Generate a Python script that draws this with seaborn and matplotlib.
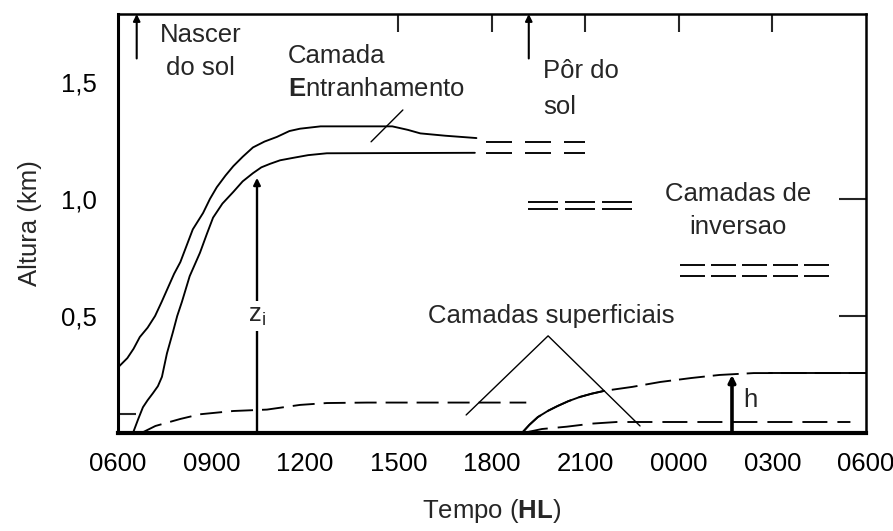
import matplotlib
matplotlib.use("Agg")
import matplotlib.pyplot as plt
import seaborn as sns
import numpy as np
import pandas as pd

# ---- time axis: hours after 06:00 local time ----
tick_hours = [0, 3, 6, 9, 12, 15, 18, 21, 24]
tick_labels = ["0600", "0900", "1200", "1500", "1800", "2100", "0000", "0300", "0600"]
top_tick_hours = [9, 12, 15, 18, 21]
height_ticks = [0.5, 1.0, 1.5]
height_labels = ["0,5", "1,0", "1,5"]
right_ticks = [0.5, 1.0]
small_tick = [0.08]

# top of the entrainment layer (km)
entr_t = [0.0, 0.15, 0.3, 0.5, 0.7, 0.95, 1.19, 1.4, 1.6, 1.8, 2.0, 2.2, 2.4, 2.73, 2.95, 3.17,
          3.45, 3.7, 4.0, 4.33, 4.7, 5.1, 5.5, 5.84, 6.5, 8.8, 9.3, 9.7, 10.5, 11.5]
entr_z = [0.28, 0.30, 0.32, 0.36, 0.41, 0.45, 0.50, 0.56, 0.62, 0.68, 0.73, 0.80, 0.87, 0.94,
          1.00, 1.05, 1.10, 1.14, 1.18, 1.22, 1.245, 1.265, 1.29, 1.30, 1.31, 1.31, 1.295,
          1.28, 1.27, 1.26]

# mixed layer top z_i (km)
mix_t = [0.48, 0.65, 0.8, 0.95, 1.12, 1.28, 1.41, 1.57, 1.76, 1.9, 2.05, 2.3, 2.63, 2.85,
         3.05, 3.35, 3.7, 4.0, 4.33, 4.6, 4.88, 5.2, 5.6, 6.1, 6.7, 11.45]
mix_z = [0.0, 0.06, 0.11, 0.14, 0.17, 0.20, 0.24, 0.34, 0.43, 0.50, 0.56, 0.67, 0.77, 0.85,
         0.92, 0.98, 1.03, 1.075, 1.11, 1.135, 1.15, 1.165, 1.175, 1.187, 1.195, 1.197]

# daytime surface layer (km)
sfc_day_t = [0.75, 1.2, 2.0, 2.63, 3.7, 4.78, 5.84, 6.7, 8.0, 13.1]
sfc_day_z = [0.0, 0.03, 0.06, 0.08, 0.094, 0.10, 0.12, 0.128, 0.13, 0.13]

# nocturnal stable boundary layer h (km)
nbl_t = [12.96, 13.2, 13.47, 13.8, 14.1, 14.45, 14.82, 15.2, 15.6, 16.5, 17.4, 18.4, 19.3,
         20.4, 24.0]
nbl_z = [0.0, 0.035, 0.068, 0.095, 0.115, 0.136, 0.154, 0.168, 0.18, 0.197, 0.218, 0.235,
         0.248, 0.256, 0.256]
nbl_solid_until = 15.6
nbl_solid_from = 20.9

# nocturnal surface layer (km)
sfc_night_t = [13.0, 13.6, 14.4, 15.2, 16.0, 23.5]
sfc_night_z = [0.0, 0.017, 0.027, 0.04, 0.047, 0.047]

# inversion layers (double dashed lines)
inv_start = [11.8, 13.15, 18.03]
inv_end = [15.0, 16.5, 22.95]
inv_upper = [1.245, 0.987, 0.718]
inv_lower = [1.197, 0.957, 0.671]

# label pointers
entr_ptr_t = [8.12, 9.14]
entr_ptr_z = [1.244, 1.38]
sfc_ptr_t = [11.17, 13.8, 16.75]
sfc_ptr_z = [0.077, 0.415, 0.03]

# vertical arrows: (time, base, tip)
sunrise = (0.6, 1.60, 1.79)
sunset = (13.18, 1.60, 1.79)
zi_arrow = (4.46, 0.0, 1.09)
h_arrow = (19.7, 0.0, 0.248)

sns.set_theme(style="white")
plt.rcParams["font.family"] = ["Liberation Sans", "DejaVu Sans"]
plt.rcParams["mathtext.fontset"] = "custom"
plt.rcParams["mathtext.rm"] = "Liberation Sans"
plt.rcParams["mathtext.it"] = "Liberation Sans"
plt.rcParams["mathtext.bf"] = "Liberation Sans:bold"
plt.rcParams["lines.scale_dashes"] = False

FS = 18.5
PX = 0.72  # points per pixel at 100 dpi

fig = plt.figure(figsize=(8.93, 5.31), dpi=100)
ax = fig.add_axes([118 / 893, 1 - 433 / 531, 748 / 893, 419 / 531])
ax.set_xlim(0, 24)
ax.set_ylim(0, 1.79)

LW = 1.35


def curve(t, z, ls="-", lw=LW):
    sns.lineplot(x=t, y=z, ax=ax, color="black", lw=lw, linestyle=ls,
                 estimator=None, sort=False, legend=False)


curve(entr_t, entr_z)
curve(mix_t, mix_z)
curve(sfc_day_t, sfc_day_z, ls=(0, (22 * PX, 9 * PX)))
curve(sfc_night_t, sfc_night_z, ls=(0, (25 * PX, 10 * PX)))

nbl = pd.DataFrame({"t": nbl_t, "z": nbl_z})
curve(nbl["t"], nbl["z"], ls=(0, (26 * PX, 8 * PX)))
first = nbl[nbl["t"] <= nbl_solid_until]
curve(first["t"], first["z"])
last_t = [nbl_solid_from] + [v for v in nbl_t if v > nbl_solid_from]
last_z = list(np.interp(last_t, nbl_t, nbl_z))
curve(last_t, last_z)

inv_dash = [(0, (26 * PX, 13 * PX)), (0, (30 * PX, 7 * PX)), (0, (25 * PX, 6 * PX))]
for s, e, up, lo, ds in zip(inv_start, inv_end, inv_upper, inv_lower, inv_dash):
    curve([s, e], [up, up], ls=ds)
    curve([s, e], [lo, lo], ls=ds)

curve(entr_ptr_t, entr_ptr_z, lw=1.0)
curve(sfc_ptr_t, sfc_ptr_z, lw=1.0)


def varrow(spec, lw, scale):
    x, base, tip = spec
    ax.annotate("", xy=(x, tip), xytext=(x, base),
                arrowprops=dict(arrowstyle="-|>", color="black", lw=lw,
                                mutation_scale=scale, shrinkA=0, shrinkB=0),
                annotation_clip=False)


varrow(sunrise, 1.5, 10)
varrow(sunset, 1.5, 10)
varrow(zi_arrow, 1.7, 10)
varrow(h_arrow, 2.6, 10)

# labels inside the plot
ax.text(sunrise[0] + 2.05, 1.63, "Nascer\ndo sol", fontsize=FS, ha="center", va="center",
        linespacing=1.5)
ax.text(5.45, 1.54, "Camada\n$\\mathbf{E}$ntranhamento", fontsize=FS, ha="left", va="center",
        linespacing=1.5)
ax.text(sunset[0] + 0.45, 1.47, "Pôr do\nsol", fontsize=FS, ha="left", va="center",
        linespacing=1.6)
ax.text(19.9, 0.95, "Camadas de\ninversao", fontsize=FS, ha="center", va="center",
        linespacing=1.5)
ax.text(13.9, 0.50, "Camadas superficiais", fontsize=FS, ha="center", va="center")
ax.text(zi_arrow[0], 0.50, "$\\mathrm{z_i}$", fontsize=FS, ha="center", va="center",
        bbox=dict(facecolor="white", edgecolor="none", pad=2))
ax.text(h_arrow[0] + 0.35, 0.14, "h", fontsize=FS, ha="left", va="center")

# axes, ticks and spines
ax.set_xticks(tick_hours)
ax.set_xticklabels(tick_labels)
ax.set_yticks(height_ticks)
ax.set_yticklabels(height_labels)
ax.set_yticks(small_tick, minor=True)
ax.tick_params(axis="x", which="major", direction="in", length=15 * PX, width=1.5,
               labelsize=FS, pad=14, colors="black")
ax.tick_params(axis="y", which="major", direction="in", length=27 * PX, width=1.5,
               labelsize=FS, pad=15, colors="black")
ax.tick_params(axis="y", which="minor", direction="in", length=18 * PX, width=1.5, left=True)

top = ax.secondary_xaxis("top")
top.set_xticks(top_tick_hours)
top.tick_params(direction="in", length=18 * PX, width=1.5, labeltop=False)
top.spines["top"].set_visible(False)
right = ax.secondary_yaxis("right")
right.set_yticks(right_ticks)
right.tick_params(direction="in", length=27 * PX, width=1.5, labelright=False)
right.spines["right"].set_visible(False)

ax.set_xlabel("Tempo ($\\mathbf{HL}$)", fontsize=FS, labelpad=15)
ax.set_ylabel("Altura (km)", fontsize=FS, labelpad=14)

for side, w in {"bottom": 3.0, "left": 2.2, "top": 1.8, "right": 1.8}.items():
    ax.spines[side].set_visible(True)
    ax.spines[side].set_color("black")
    ax.spines[side].set_linewidth(w)

fig.savefig("out.png", dpi=100, facecolor="white")
